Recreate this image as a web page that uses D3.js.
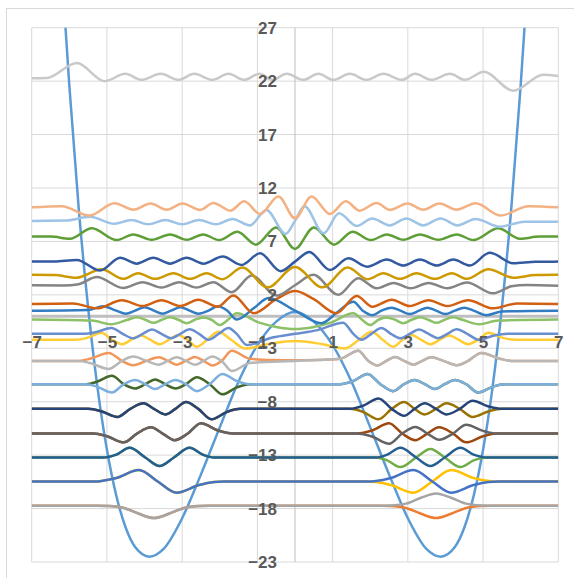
<!DOCTYPE html>
<html>
<head>
<meta charset="utf-8">
<script src="https://cdn.jsdelivr.net/npm/d3@7"></script>
<style>
  body { margin: 0; background: #fff; }
  svg { display: block; }
</style>
</head>
<body>
<svg id="chart" width="574" height="578"></svg>
<script>
// ---- axis ticks ----
const xTicks = [-7, -5, -3, -1, 1, 3, 5, 7];
const yTicks = [-23, -18, -13, -8, -3, 2, 7, 12, 17, 22, 27];

// ---- potential (double well) ----
const potential = [[-6.15,29.6],[-6,21.6],[-5.75,10.1],[-5.5,0.8],[-5.25,-6.7],[-5,-12.5],[-4.75,-16.8],[-4.5,-19.8],[-4.25,-21.6],[-3.87,-22.5],[-3.5,-21.8],[-3,-18.9],[-2.5,-14.8],[-2,-10.4],[-1.5,-6.1],[-1,-2.7],[-0.5,-0.5],[0,0.4],[0.5,-0.5],[1,-2.7],[1.5,-6.1],[2,-10.4],[2.5,-14.8],[3,-18.9],[3.5,-21.8],[3.87,-22.5],[4.25,-21.6],[4.5,-19.8],[4.75,-16.8],[5,-12.5],[5.25,-6.7],[5.5,0.8],[5.75,10.1],[6,21.6],[6.15,29.6]];

// ---- wave functions, each drawn at its energy level ----
const orange1 = [[-7,-17.74],[-5.25,-17.74],[-4.95,-17.77],[-4.55,-17.94],[-4.15,-18.49],[-3.75,-18.89],[-3.35,-18.49],[-2.95,-17.94],[-2.55,-17.77],[-2.25,-17.74],[2.25,-17.74],[2.55,-17.77],[2.95,-17.94],[3.35,-18.49],[3.75,-18.89],[4.15,-18.49],[4.55,-17.94],[4.95,-17.77],[5.25,-17.74],[7,-17.74]];
const gray1 = [[-7,-17.74],[-5.25,-17.74],[-4.95,-17.77],[-4.55,-17.94],[-4.15,-18.49],[-3.75,-18.89],[-3.35,-18.49],[-2.95,-17.94],[-2.55,-17.77],[-2.25,-17.74],[2.25,-17.74],[2.55,-17.71],[2.95,-17.54],[3.35,-16.99],[3.75,-16.59],[4.15,-16.99],[4.55,-17.54],[4.95,-17.71],[5.25,-17.74],[7,-17.74]];

const gold2 = [[-7,-15.47],[-5.3,-15.47],[-5.15,-15.42],[-4.75,-15.14],[-4.15,-14.4],[-3.65,-15.47],[-3.15,-16.52],[-2.55,-15.8],[-2.15,-15.52],[-1.9,-15.47],[1.9,-15.47],[2.15,-15.52],[2.55,-15.8],[3.15,-16.52],[3.65,-15.47],[4.15,-14.4],[4.75,-15.14],[5.15,-15.42],[5.4,-15.47],[7,-15.47]];
const blue2 = [[-7,-15.47],[-5.3,-15.47],[-5.15,-15.42],[-4.75,-15.14],[-4.15,-14.4],[-3.65,-15.47],[-3.15,-16.52],[-2.55,-15.8],[-2.15,-15.52],[-1.9,-15.47],[1.9,-15.47],[2.15,-15.42],[2.55,-15.14],[3.15,-14.4],[3.65,-15.47],[4.15,-16.52],[4.75,-15.8],[5.15,-15.52],[5.4,-15.47],[7,-15.47]];

const green3 = [[-7,-13.22],[-5.1,-13.22],[-4.75,-12.95],[-4.4,-12.32],[-3.98,-13.22],[-3.6,-14.02],[-3.22,-13.22],[-2.8,-12.32],[-2.45,-12.95],[-2.15,-13.22],[2.15,-13.22],[2.45,-13.49],[2.8,-14.12],[3.22,-13.22],[3.6,-12.42],[3.98,-13.22],[4.4,-14.12],[4.75,-13.49],[5.1,-13.22],[7,-13.22]];
const dblue3 = [[-7,-13.22],[-5.1,-13.22],[-4.75,-12.95],[-4.4,-12.32],[-3.98,-13.22],[-3.6,-14.02],[-3.22,-13.22],[-2.8,-12.32],[-2.45,-12.95],[-2.15,-13.22],[2.15,-13.22],[2.45,-12.95],[2.8,-12.32],[3.22,-13.22],[3.6,-14.02],[3.98,-13.22],[4.4,-12.32],[4.75,-12.95],[5.1,-13.22],[7,-13.22]];

const dorange4 = [[-7,-10.98],[-5.35,-10.98],[-5,-11.23],[-4.55,-11.8],[-4.2,-10.98],[-3.83,-10.4],[-3.52,-10.98],[-3.2,-11.6],[-2.85,-10.98],[-2.5,-10.02],[-2.05,-10.7],[-1.65,-10.98],[1.65,-10.98],[2.05,-10.7],[2.5,-10.02],[2.85,-10.98],[3.2,-11.6],[3.52,-10.98],[3.83,-10.4],[4.2,-10.98],[4.55,-11.8],[5,-11.23],[5.35,-10.98],[7,-10.98]];
const dgray4 = [[-7,-10.98],[-5.35,-10.98],[-5,-11.23],[-4.55,-11.8],[-4.2,-10.98],[-3.83,-10.4],[-3.52,-10.98],[-3.2,-11.6],[-2.85,-10.98],[-2.5,-10.02],[-2.05,-10.7],[-1.65,-10.98],[1.65,-10.98],[2.05,-11.26],[2.5,-11.94],[2.85,-10.98],[3.2,-10.36],[3.52,-10.98],[3.83,-11.56],[4.2,-10.98],[4.55,-10.16],[5,-10.73],[5.35,-10.98],[7,-10.98]];

const dgold5 = [[-7,-8.67],[-5.5,-8.67],[-5.15,-8.89],[-4.72,-9.42],[-4.38,-8.67],[-4.03,-8.15],[-3.75,-8.67],[-3.45,-9.19],[-3.18,-8.67],[-2.9,-8.02],[-2.57,-8.67],[-2.22,-9.65],[-1.82,-8.97],[-1.45,-8.67],[1.45,-8.67],[1.82,-8.97],[2.22,-9.65],[2.57,-8.67],[2.9,-8.02],[3.18,-8.67],[3.45,-9.19],[3.75,-8.67],[4.03,-8.15],[4.38,-8.67],[4.72,-9.42],[5.15,-8.89],[5.5,-8.67],[7,-8.67]];
const navy5 = [[-7,-8.67],[-5.5,-8.67],[-5.15,-8.89],[-4.72,-9.42],[-4.38,-8.67],[-4.03,-8.15],[-3.75,-8.67],[-3.45,-9.19],[-3.18,-8.67],[-2.9,-8.02],[-2.57,-8.67],[-2.22,-9.65],[-1.82,-8.97],[-1.45,-8.67],[1.45,-8.67],[1.82,-8.37],[2.22,-7.69],[2.57,-8.67],[2.9,-9.32],[3.18,-8.67],[3.45,-8.15],[3.75,-8.67],[4.03,-9.19],[4.38,-8.67],[4.72,-7.92],[5.15,-8.45],[5.5,-8.67],[7,-8.67]];

const dgreen6 = [[-7,-6.36],[-5.55,-6.36],[-5.25,-6.11],[-4.87,-5.58],[-4.55,-6.36],[-4.25,-6.76],[-3.98,-6.36],[-3.72,-5.91],[-3.45,-6.36],[-3.18,-6.76],[-2.9,-6.36],[-2.61,-5.71],[-2.27,-6.36],[-1.93,-7.31],[-1.55,-6.66],[-1.2,-6.36],[1.2,-6.36],[1.55,-6.06],[1.93,-5.41],[2.27,-6.36],[2.61,-7.01],[2.9,-6.36],[3.18,-5.96],[3.45,-6.36],[3.72,-6.81],[3.98,-6.36],[4.25,-5.96],[4.55,-6.36],[4.87,-7.14],[5.25,-6.61],[5.55,-6.36],[7,-6.36]];
const lblue6 = [[-7,-6.36],[-5.55,-6.36],[-5.25,-6.61],[-4.87,-7.14],[-4.55,-6.36],[-4.25,-5.96],[-3.98,-6.36],[-3.72,-6.81],[-3.45,-6.36],[-3.18,-5.96],[-2.9,-6.36],[-2.61,-7.01],[-2.27,-6.36],[-1.93,-5.41],[-1.55,-6.06],[-1.2,-6.36],[1.2,-6.36],[1.55,-6.06],[1.93,-5.41],[2.27,-6.36],[2.61,-7.01],[2.9,-6.36],[3.18,-5.96],[3.45,-6.36],[3.72,-6.81],[3.98,-6.36],[4.25,-5.96],[4.55,-6.36],[4.87,-7.14],[5.25,-6.61],[5.55,-6.36],[7,-6.36]];

const lorange7 = [[-7,-4.18],[-5.75,-4.18],[-5.45,-3.98],[-4.95,-3.43],[-4.6,-4.18],[-4.3,-4.58],[-3.95,-4.18],[-3.62,-3.83],[-3.38,-4.18],[-3.15,-4.53],[-2.9,-4.18],[-2.66,-3.82],[-2.43,-4.18],[-2.2,-4.6],[-1.95,-4.18],[-1.68,-3.23],[-1.2,-3.98],[-0.6,-4.1],[0,-4.13],[0.6,-4.1],[1.2,-3.98],[1.68,-3.23],[1.95,-4.18],[2.2,-4.6],[2.43,-4.18],[2.66,-3.82],[2.9,-4.18],[3.15,-4.53],[3.38,-4.18],[3.62,-3.83],[3.95,-4.18],[4.3,-4.58],[4.6,-4.18],[4.95,-3.43],[5.45,-3.98],[5.75,-4.18],[7,-4.18]];
const lgray7 = [[-7,-4.18],[-5.75,-4.18],[-5.45,-4.38],[-4.95,-4.93],[-4.6,-4.18],[-4.3,-3.78],[-3.95,-4.18],[-3.62,-4.53],[-3.38,-4.18],[-3.15,-3.83],[-2.9,-4.18],[-2.66,-4.54],[-2.43,-4.18],[-2.2,-3.76],[-1.95,-4.18],[-1.68,-5.13],[-1.2,-4.38],[-0.6,-4.26],[0,-4.18],[0.6,-4.1],[1.2,-3.98],[1.68,-3.23],[1.95,-4.18],[2.2,-4.6],[2.43,-4.18],[2.66,-3.82],[2.9,-4.18],[3.15,-4.53],[3.38,-4.18],[3.62,-3.83],[3.95,-4.18],[4.3,-4.58],[4.6,-4.18],[4.95,-3.43],[5.45,-3.98],[5.75,-4.18],[7,-4.18]];

const lgold8 = [[-7,-2.2],[-5.85,-2.2],[-5.55,-2.05],[-5.14,-1.54],[-4.87,-2.2],[-4.6,-2.62],[-4.35,-2.2],[-4.1,-1.8],[-3.85,-2.2],[-3.6,-2.62],[-3.35,-2.2],[-3.1,-1.75],[-2.86,-2.2],[-2.61,-2.85],[-2.33,-2.2],[-2.04,-1.45],[-1.7,-2.2],[-1.33,-3.02],[-0.7,-2.6],[0,-2.32],[0.7,-2.6],[1.33,-3.02],[1.7,-2.2],[2.04,-1.45],[2.33,-2.2],[2.61,-2.85],[2.86,-2.2],[3.1,-1.75],[3.35,-2.2],[3.6,-2.62],[3.85,-2.2],[4.1,-1.8],[4.35,-2.2],[4.6,-2.62],[4.87,-2.2],[5.14,-1.54],[5.55,-2.05],[5.85,-2.2],[7,-2.2]];
const lblue8 = [[-7,-1.65],[-5.65,-1.65],[-5.3,-1.5],[-4.88,-1.1],[-4.58,-1.65],[-4.3,-2.07],[-4.05,-1.65],[-3.8,-1.25],[-3.55,-1.65],[-3.3,-2.05],[-3.05,-1.65],[-2.8,-1.23],[-2.55,-1.65],[-2.3,-2.2],[-2.03,-1.65],[-1.77,-1.1],[-1.55,-1.65],[-1.28,-2.7],[-0.6,-2.0],[0,-1.65],[0.6,-1.3],[1.28,-0.6],[1.55,-1.65],[1.77,-2.2],[2.03,-1.65],[2.3,-1.1],[2.55,-1.65],[2.8,-2.07],[3.05,-1.65],[3.3,-1.25],[3.55,-1.65],[3.8,-2.05],[4.05,-1.65],[4.3,-1.23],[4.58,-1.65],[4.88,-2.2],[5.3,-1.8],[5.65,-1.65],[7,-1.65]];

const lgreen9 = [[-7,-0.3],[-5.4,-0.4],[-4.9,-0.75],[-4.45,-0.33],[-4.2,-0.1],[-3.98,-0.33],[-3.76,-0.62],[-3.54,-0.33],[-3.32,-0.1],[-3.1,-0.33],[-2.88,-0.66],[-2.66,-0.33],[-2.44,-0.12],[-2.22,-0.33],[-2,-0.82],[-1.78,-0.33],[-1.55,0.28],[-0.95,-0.6],[-0.5,-1],[0,-1.2],[0.5,-1],[0.95,-0.6],[1.55,0.28],[1.78,-0.33],[2,-0.82],[2.22,-0.33],[2.44,-0.12],[2.66,-0.33],[2.88,-0.66],[3.1,-0.33],[3.32,-0.1],[3.54,-0.33],[3.76,-0.62],[3.98,-0.33],[4.2,-0.1],[4.45,-0.33],[4.9,-0.75],[5.4,-0.4],[7,-0.3]];
const blue9 = [[-7,0.52],[-5.5,0.59],[-5.1,0.94],[-4.75,0.52],[-4.5,0.24],[-4.25,0.52],[-4,0.84],[-3.75,0.52],[-3.52,0.24],[-3.3,0.52],[-3.05,0.84],[-2.8,0.52],[-2.57,0.24],[-2.3,0.52],[-2.05,0.94],[-1.8,0.52],[-1.55,-0.31],[-1.1,0.74],[-0.7,1.7],[0,0.52],[0.7,-0.66],[1.1,0.3],[1.55,1.35],[1.8,0.52],[2.05,0.1],[2.3,0.52],[2.57,0.8],[2.8,0.52],[3.05,0.2],[3.3,0.52],[3.52,0.8],[3.75,0.52],[4,0.2],[4.25,0.52],[4.5,0.8],[4.75,0.52],[5.1,0.1],[5.5,0.45],[7,0.52]];

const orange10 = [[-7,1.15],[-5.9,1.2],[-5.27,0.74],[-4.6,1.5],[-4.05,0.95],[-3.55,1.5],[-3.05,0.95],[-2.57,1.55],[-2.06,0.89],[-1.64,1.95],[-1.1,0.28],[-0.5,1.6],[0,2.35],[0.5,1.6],[1.1,0.28],[1.64,1.9],[2.06,0.89],[2.57,1.55],[3.05,0.95],[3.55,1.5],[4.05,0.95],[4.6,1.5],[5.27,0.74],[5.9,1.2],[7,1.15]];

const gray11 = [[-7,2.9],[-6.16,2.88],[-5.75,3.0],[-5.27,3.66],[-4.57,2.65],[-4.05,3.18],[-3.55,2.68],[-3.08,3.18],[-2.62,2.68],[-2.17,3.18],[-1.68,2.25],[-1.15,3.8],[-0.49,1.93],[0,2.9],[0.49,3.87],[1.15,2.0],[1.68,3.55],[2.17,2.62],[2.62,3.12],[3.08,2.62],[3.55,3.12],[4.05,2.62],[4.57,3.15],[5.27,2.14],[5.75,2.8],[6.16,2.92],[7,2.85]];

const gold12 = [[-7,3.87],[-6.4,3.85],[-5.8,3.6],[-5.14,4.4],[-4.57,3.5],[-4.17,4.02],[-3.72,3.5],[-3.23,4.02],[-2.79,3.5],[-2.35,4.02],[-1.93,3.46],[-1.4,4.55],[-0.73,2.7],[0,4.6],[0.73,2.7],[1.4,4.55],[1.93,3.46],[2.35,4.02],[2.79,3.5],[3.23,4.02],[3.72,3.5],[4.17,4.02],[4.57,3.5],[5.14,4.4],[5.8,3.6],[6.4,3.85],[7,3.87]];

const dblue13 = [[-7,5.11],[-6.4,5.12],[-5.8,5.27],[-5.18,4.27],[-4.65,5.47],[-4.21,4.92],[-3.77,5.47],[-3.32,4.92],[-2.88,5.47],[-2.44,4.92],[-1.92,5.58],[-1.42,4.8],[-0.93,5.89],[-0.38,4.22],[0,5.11],[0.38,6.0],[0.93,4.33],[1.42,5.42],[1.92,4.64],[2.44,5.3],[2.88,4.75],[3.32,5.3],[3.77,4.75],[4.21,5.3],[4.65,4.75],[5.18,5.95],[5.8,4.95],[6.4,5.1],[7,5.11]];

const green14 = [[-7,7.45],[-6.5,7.45],[-5.98,7.25],[-5.4,8.23],[-4.74,7.13],[-4.3,7.65],[-3.81,7.15],[-3.32,7.65],[-2.88,7.15],[-2.44,7.65],[-2.02,7.13],[-1.53,7.9],[-1.04,6.7],[-0.5,8.3],[0,6.3],[0.5,8.3],[1.04,6.7],[1.53,7.9],[2.02,7.13],[2.44,7.65],[2.88,7.15],[3.32,7.65],[3.81,7.15],[4.3,7.65],[4.74,7.13],[5.4,8.23],[5.98,7.25],[6.5,7.45],[7,7.45]];

const lblue15 = [[-7,8.92],[-6.1,8.95],[-5.45,9.3],[-4.8,8.65],[-4.35,9.0],[-3.9,8.6],[-3.45,9.0],[-3,8.6],[-2.55,9.0],[-2.1,8.6],[-1.66,9.1],[-1.2,8.5],[-0.76,9.95],[-0.25,7.7],[0,8.92],[0.25,10.3],[0.76,7.76],[1.17,9.63],[1.64,8.44],[2.05,9.15],[2.52,8.5],[2.96,9.15],[3.41,8.5],[3.87,9.15],[4.32,8.5],[4.8,9.1],[5.45,8.38],[6.1,8.85],[7,8.85]];

const lorange16 = [[-7,10.19],[-6.2,10.3],[-5.47,9.42],[-4.8,10.57],[-4.3,9.97],[-3.84,10.55],[-3.41,9.97],[-2.99,10.55],[-2.53,9.95],[-2.17,10.6],[-1.72,9.88],[-1.35,10.75],[-0.93,9.57],[-0.44,11.2],[0,9.16],[0.44,11.2],[0.93,9.57],[1.35,10.75],[1.72,9.88],[2.17,10.6],[2.53,9.95],[2.99,10.55],[3.41,9.97],[3.84,10.55],[4.3,9.97],[4.8,10.57],[5.47,9.42],[6.2,10.3],[7,10.19]];

const lgray17 = [[-7,22.27],[-6.6,22.3],[-5.8,23.7],[-5.06,22.0],[-4.51,22.68],[-4.08,22.12],[-3.57,22.68],[-3.1,22.12],[-2.68,22.68],[-2.2,22.12],[-1.77,22.68],[-1.35,22.12],[-0.95,22.68],[-0.6,22.12],[-0.22,22.68],[0.22,22.12],[0.62,22.68],[1.02,22.12],[1.46,22.68],[1.9,22.12],[2.35,22.68],[2.84,22.12],[3.19,22.68],[3.63,22.12],[4.12,22.68],[4.52,22.12],[5.02,22.88],[5.8,21.1],[6.6,22.6],[7,22.48]];

// series in sheet order (later ones paint over earlier)
const series = [
  { data: potential, color: "#5B9BD5" },
  { data: orange1, color: "#ED7D31" }, { data: gray1, color: "#A5A5A5" },
  { data: gold2, color: "#FFC000" }, { data: blue2, color: "#4472C4" },
  { data: green3, color: "#70AD47" }, { data: dblue3, color: "#255E91" },
  { data: dorange4, color: "#9E480E" }, { data: dgray4, color: "#636363" },
  { data: dgold5, color: "#997300" }, { data: navy5, color: "#264478" },
  { data: dgreen6, color: "#43682B" }, { data: lblue6, color: "#7CAFDD" },
  { data: lorange7, color: "#F1975A" }, { data: lgray7, color: "#B7B7B7" },
  { data: lgold8, color: "#FFCD33" }, { data: lblue8, color: "#698ED0" },
  { data: lgreen9, color: "#8CC168" }, { data: blue9, color: "#327DC2" },
  { data: orange10, color: "#D26012" }, { data: gray11, color: "#848484" },
  { data: gold12, color: "#CC9A00" }, { data: dblue13, color: "#335AA1" },
  { data: green14, color: "#5E9E37" }, { data: lblue15, color: "#9DC3E6" },
  { data: lorange16, color: "#F4B183" }, { data: lgray17, color: "#C9C9C9" }
];

const svg = d3.select("#chart");
const plotLeft = 31.7, plotRight = 558.3, plotTop = 27.7, plotBottom = 562;

const x = d3.scaleLinear().domain([-7, 7]).range([plotLeft, plotRight]);
const y = d3.scaleLinear().domain([-23, 27]).range([plotBottom, plotTop]);

// chart area border
svg.append("rect")
  .attr("x", 6.5).attr("y", 8.5)
  .attr("width", 600).attr("height", 600)
  .attr("fill", "#fff").attr("stroke", "#d9d9d9");

svg.append("clipPath").attr("id", "plot")
  .append("rect")
  .attr("x", plotLeft).attr("y", plotTop)
  .attr("width", plotRight - plotLeft).attr("height", plotBottom - plotTop);

// gridlines
const grid = svg.append("g").attr("stroke", "#d9d9d9").attr("stroke-width", 1);
grid.selectAll("line.v").data(xTicks).join("line")
  .attr("class", "v")
  .attr("x1", d => x(d)).attr("x2", d => x(d))
  .attr("y1", plotTop).attr("y2", plotBottom);
grid.selectAll("line.h").data(yTicks).join("line")
  .attr("class", "h")
  .attr("x1", plotLeft).attr("x2", plotRight)
  .attr("y1", d => y(d)).attr("y2", d => y(d));

// axis lines through the origin
svg.append("line")
  .attr("x1", x(0)).attr("x2", x(0))
  .attr("y1", plotTop).attr("y2", plotBottom)
  .attr("stroke", "#bfbfbf").attr("stroke-width", 1);
svg.append("line")
  .attr("x1", plotLeft).attr("x2", plotRight)
  .attr("y1", y(0)).attr("y2", y(0))
  .attr("stroke", "#bfbfbf").attr("stroke-width", 3);

// curves
const line = d3.line()
  .x(d => x(d[0]))
  .y(d => y(d[1]))
  .curve(d3.curveMonotoneX);

svg.append("g").attr("clip-path", "url(#plot)")
  .selectAll("path")
  .data(series)
  .join("path")
  .attr("d", d => line(d.data))
  .attr("fill", "none")
  .attr("stroke", d => d.color)
  .attr("stroke-width", 2.5)
  .attr("stroke-linejoin", "round");

// tick labels (axes cross at the origin)
const yAxis = d3.axisLeft(y).tickValues(yTicks).tickSize(0).tickPadding(18);
const xAxis = d3.axisBottom(x).tickValues(xTicks).tickSize(0).tickPadding(20);

const gy = svg.append("g").attr("transform", `translate(${x(0)},0)`).call(yAxis);
const gx = svg.append("g").attr("transform", `translate(0,${y(0)})`).call(xAxis);

[gx, gy].forEach(g => {
  g.select(".domain").remove();
  g.selectAll("text")
    .attr("fill", "#595959")
    .attr("font-family", "'Liberation Sans', Arial, sans-serif")
    .attr("font-weight", "bold")
    .attr("font-size", 17);
});
</script>
</body>
</html>
